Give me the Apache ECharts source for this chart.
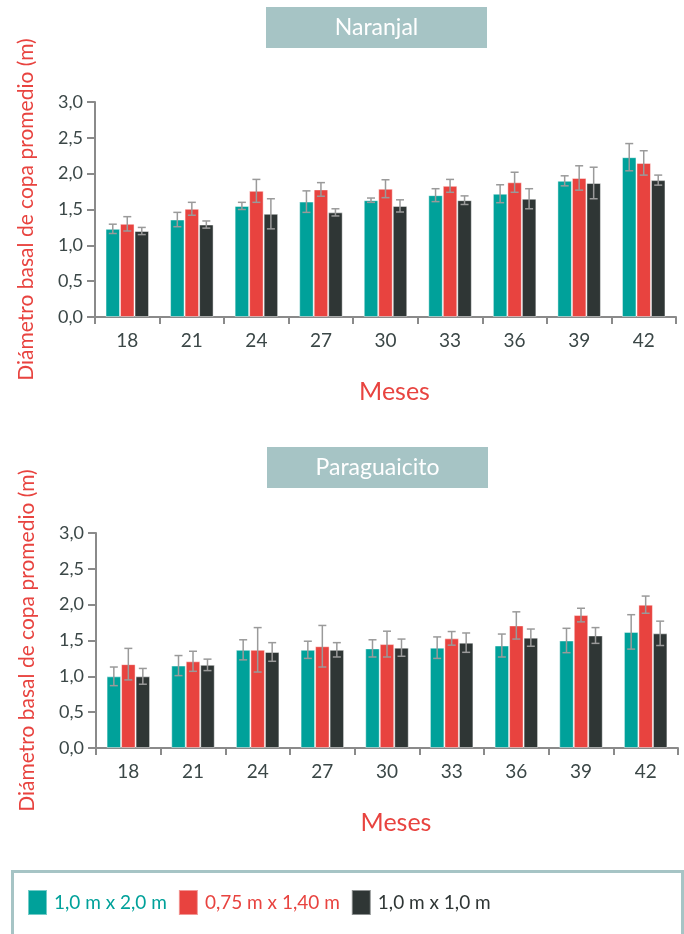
<!DOCTYPE html>
<html><head><meta charset="utf-8">
<script src="https://cdn.jsdelivr.net/npm/echarts@6/dist/echarts.min.js"></script>
<style>html,body{margin:0;padding:0;background:#fff}#c{width:684px;height:934px}</style>
</head><body><div id="c"></div>
<script>
var categories = ['18','21','24','27','30','33','36','39','42'];
var seriesNames = ['1,0 m x 2,0 m','0,75 m x 1,40 m','1,0 m x 1,0 m'];
var yTicks = [0, 0.5, 1.0, 1.5, 2.0, 2.5, 3.0];
// Naranjal
var nar_a = [1.23,1.36,1.55,1.61,1.63,1.70,1.72,1.90,2.23];
var nar_a_err = [0.065,0.10,0.05,0.15,0.03,0.09,0.125,0.07,0.19];
var nar_b = [1.30,1.51,1.76,1.78,1.79,1.83,1.88,1.94,2.15];
var nar_b_err = [0.10,0.09,0.16,0.095,0.125,0.09,0.14,0.17,0.17];
var nar_c = [1.20,1.29,1.44,1.46,1.55,1.63,1.65,1.87,1.91];
var nar_c_err = [0.05,0.05,0.21,0.05,0.085,0.06,0.14,0.22,0.07];
// Paraguaicito
var par_a = [1.00,1.15,1.37,1.37,1.39,1.40,1.43,1.50,1.62];
var par_a_err = [0.13,0.14,0.14,0.12,0.12,0.15,0.16,0.17,0.24];
var par_b = [1.17,1.21,1.37,1.42,1.45,1.53,1.71,1.855,2.00];
var par_b_err = [0.22,0.14,0.31,0.29,0.18,0.095,0.19,0.095,0.12];
var par_c = [1.00,1.16,1.34,1.37,1.40,1.47,1.54,1.57,1.60];
var par_c_err = [0.11,0.08,0.13,0.10,0.12,0.135,0.12,0.11,0.17];

var colors = ['#00a19a','#e8433f','#2f3635'];
var FONT = 'Lato';
var BW = 14.5;

function errData(v, e){ return v.map(function(x,i){ return [i, x, e[i]]; }); }
function errRender(offset){
  return function(params, api){
    var x = api.value(0), y = api.value(1), e = api.value(2);
    var hi = api.coord([x, y+e]), lo = api.coord([x, y-e]);
    var cx = hi[0] + offset, w = 4;
    var st = {stroke:'#9a9a9a', lineWidth:1.5};
    return {type:'group', children:[
      {type:'line', shape:{x1:cx,y1:hi[1],x2:cx,y2:lo[1]}, style:st},
      {type:'line', shape:{x1:cx-w,y1:hi[1],x2:cx+w,y2:hi[1]}, style:st},
      {type:'line', shape:{x1:cx-w,y1:lo[1],x2:cx+w,y2:lo[1]}, style:st}
    ]};
  };
}
function xAxis(gi){
  return {type:'category', gridIndex:gi, data:categories, boundaryGap:true,
    axisLine:{lineStyle:{color:'#8a8a8a', width:2}},
    axisTick:{show:true, length:7, lineStyle:{color:'#8a8a8a', width:2}},
    axisLabel:{color:'#3b4747', fontSize:19, fontFamily:FONT, margin:14},
    name:'Meses', nameLocation:'middle', nameGap:62,
    nameTextStyle:{color:'#e8433f', fontSize:25, fontFamily:FONT, padding:[0,0,0,18]}};
}
function yAxis(gi){
  return {type:'value', gridIndex:gi, min:0, max:3, interval:0.5,
    axisLine:{show:true, lineStyle:{color:'#8a8a8a', width:2}},
    axisTick:{show:true, length:8, lineStyle:{color:'#8a8a8a', width:2}},
    splitLine:{show:false},
    axisLabel:{color:'#3b4747', fontSize:18, fontFamily:FONT, margin:12,
      formatter:function(v){ return v.toFixed(1).replace('.', ','); }},
    name:'Diámetro basal de copa promedio (m)', nameLocation:'middle', nameGap:58,
    nameTextStyle:{color:'#e8433f', fontSize:21, fontFamily:FONT}};
}
function bars(gi, vals){
  return vals.map(function(v, k){
    return {type:'bar', name:seriesNames[k], xAxisIndex:gi, yAxisIndex:gi, data:v,
      barWidth:BW, barGap:'0%', itemStyle:{color:colors[k], borderColor:'rgba(255,255,255,0.45)', borderWidth:1}};
  });
}
function errs(gi, vals, es){
  return vals.map(function(v, k){
    return {type:'custom', name:'err'+gi+k, xAxisIndex:gi, yAxisIndex:gi, data:errData(v, es[k]),
      renderItem:errRender((k-1)*BW), z:5, silent:true};
  });
}
function titleBox(x, y, txt){
  return {type:'group', left:x, top:y, children:[
    {type:'rect', shape:{x:0,y:0,width:221,height:41}, style:{fill:'#a6c4c5'}},
    {type:'text', x:110.5, y:20.5, style:{text:txt, fill:'#ffffff', font:'23px '+FONT, textAlign:'center', textVerticalAlign:'middle'}}
  ]};
}

var chart = echarts.init(document.getElementById('c'));
chart.setOption({
  animation:false,
  grid:[{left:95, top:102, width:581, height:215},{left:96, top:533, width:582, height:215}],
  xAxis:[xAxis(0), xAxis(1)],
  yAxis:[yAxis(0), yAxis(1)],
  legend:{left:27, top:889, padding:0, itemWidth:19, itemHeight:25, itemGap:11, icon:'rect',
    textStyle:{fontSize:19, fontFamily:FONT, padding:[0,0,0,2]},
    data:[{name:seriesNames[0], textStyle:{color:colors[0]}},
          {name:seriesNames[1], textStyle:{color:colors[1]}},
          {name:seriesNames[2], textStyle:{color:colors[2]}}]},
  graphic:[
    titleBox(266, 7, 'Naranjal'),
    titleBox(267, 447, 'Paraguaicito'),
    {type:'rect', left:10, top:869, shape:{x:0,y:0,width:670,height:80}, style:{fill:'none', stroke:'#a6c4c5', lineWidth:3}}
  ],
  series: [].concat(
    bars(0, [nar_a, nar_b, nar_c]),
    bars(1, [par_a, par_b, par_c]),
    errs(0, [nar_a, nar_b, nar_c], [nar_a_err, nar_b_err, nar_c_err]),
    errs(1, [par_a, par_b, par_c], [par_a_err, par_b_err, par_c_err])
  )
});
</script></body></html>
